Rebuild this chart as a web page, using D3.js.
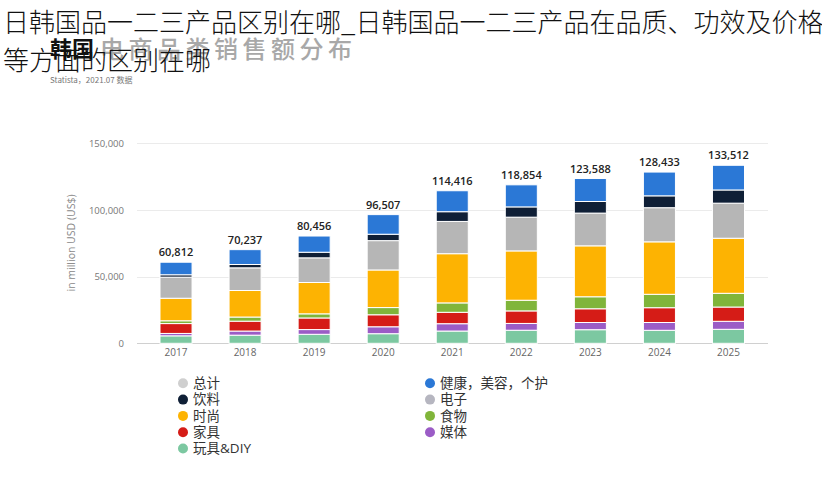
<!DOCTYPE html>
<html>
<head>
<meta charset="utf-8">
<script src="https://cdn.jsdelivr.net/npm/d3@7"></script>
<style>
  html, body { margin: 0; padding: 0; background: #fff; }
  svg { display: block; }
</style>
</head>
<body>
<svg id="chart" width="822" height="500"></svg>
<script>
// ---- data ----
const years = ["2017", "2018", "2019", "2020", "2021", "2022", "2023", "2024", "2025"];
const toys        = [5600, 6100, 6750, 7200, 9200, 9800, 10200, 9750, 10500];
const media       = [1800, 3100, 3550, 5200, 5500, 5100, 5400, 5850, 6000];
const furniture   = [7400, 7400, 8700, 9000, 8550, 9400, 10300, 11100, 10700];
const food        = [2100, 3100, 3100, 5400, 7050, 8000, 9000, 10050, 10300];
const fashion     = [16900, 19900, 23500, 28200, 36900, 37000, 38200, 39350, 41300];
const electronics = [15800, 17000, 18500, 22000, 24200, 25300, 24550, 25600, 26300];
const beverages   = [1800, 2500, 4200, 4800, 7300, 7700, 8700, 8900, 9900];
const health      = [9412, 11137, 12156, 14707, 15716, 16554, 17238, 17833, 18512];
const totals      = [60812, 70237, 80456, 96507, 114416, 118854, 123588, 128433, 133512];
const yTicks      = [0, 50000, 100000, 150000];

const seriesKeys   = ["toys", "media", "furniture", "food", "fashion", "electronics", "beverages", "health"];
const seriesValues = [toys, media, furniture, food, fashion, electronics, beverages, health];
const seriesColors = ["#7cc8a1", "#9b5cc6", "#d51c17", "#80b53a", "#fdb302", "#b6b6b6", "#0f1f36", "#2b78d6"];

const legendLeft  = [["总计", "#cfcfcf"], ["饮料", "#0f1f36"], ["时尚", "#fdb302"], ["家具", "#d51c17"], ["玩具&DIY", "#7cc8a1"]];
const legendRight = [["健康，美容，个护", "#2b78d6"], ["电子", "#b6b6c0"], ["食物", "#80b53a"], ["媒体", "#9b5cc6"]];

// ---- build table ----
const table = years.map((yr, i) => {
  const row = { year: yr, total: totals[i] };
  seriesKeys.forEach((k, j) => row[k] = seriesValues[j][i]);
  return row;
});

const svg = d3.select("#chart");
const FONT = "'Open Sans', 'Noto Sans CJK SC', sans-serif";

const x = d3.scaleBand().domain(years).range([141.5, 763]).paddingInner(0.536).paddingOuter(0.268);
const y = d3.scaleLinear().domain([0, 150000]).range([343.3, 143.3]);

// gridlines
svg.append("g").selectAll("line").data(yTicks).join("line")
  .attr("x1", 137).attr("x2", 768)
  .attr("y1", d => Math.round(y(d)) + 0.5).attr("y2", d => Math.round(y(d)) + 0.5)
  .attr("stroke", d => d === 0 ? "#d0d0d0" : "#ebebeb")
  .attr("stroke-width", 1);

// y axis labels
const yAxis = d3.axisLeft(y).tickValues(yTicks).tickSize(0).tickPadding(0).tickFormat(d3.format(","));
const yg = svg.append("g").attr("transform", "translate(124,0)").call(yAxis);
yg.select(".domain").remove();
yg.selectAll("text").attr("font-family", FONT).attr("font-size", 9.5).attr("fill", "#777");

// y axis title
svg.append("text")
  .attr("transform", "translate(75,243) rotate(-90)")
  .attr("text-anchor", "middle")
  .attr("font-family", FONT).attr("font-size", 10.5).attr("fill", "#888")
  .text("in million USD (US$)");

// x axis labels
const xAxis = d3.axisBottom(x).tickSize(0).tickPadding(0);
const xg = svg.append("g").attr("transform", "translate(0,349)").call(xAxis);
xg.select(".domain").remove();
xg.selectAll("text").attr("font-family", FONT).attr("font-size", 10).attr("fill", "#666");

// stacked bars
const stacked = d3.stack().keys(seriesKeys)(table);
svg.append("g").selectAll("g").data(stacked).join("g")
  .attr("fill", (d, i) => seriesColors[i])
  .selectAll("rect").data(d => d).join("rect")
  .attr("x", d => x(d.data.year))
  .attr("width", x.bandwidth())
  .attr("y", d => y(d[1]))
  .attr("height", d => y(d[0]) - y(d[1]))
  .attr("stroke", "#fff")
  .attr("stroke-width", 1);

// total labels
svg.append("g").selectAll("text").data(table).join("text")
  .attr("x", d => x(d.year) + x.bandwidth() / 2)
  .attr("y", d => y(d.total) - 6)
  .attr("text-anchor", "middle")
  .attr("font-family", FONT).attr("font-size", 11).attr("font-weight", 600).attr("fill", "#222")
  .text(d => d3.format(",")(d.total));

// legend
function legendCol(items, cx, tx) {
  const g = svg.append("g");
  const rows = g.selectAll("g").data(items).join("g")
    .attr("transform", (d, i) => `translate(0,${383.3 + i * 16.3})`);
  rows.append("circle").attr("cx", cx).attr("cy", 0).attr("r", 5).attr("fill", d => d[1]);
  rows.append("text").attr("x", tx).attr("y", 4.8)
    .attr("font-family", FONT).attr("font-size", 13.5).attr("fill", "#333")
    .text(d => d[0]);
}
legendCol(legendLeft, 183, 193);
legendCol(legendRight, 430, 440);

// embedded subtitle (behind title)
svg.append("text").attr("x", 50).attr("y", 57)
  .attr("font-family", "'Noto Sans CJK SC', sans-serif").attr("font-size", 22).attr("font-weight", 700).attr("fill", "#111")
  .text("韩国");
svg.append("text").attr("x", 100).attr("y", 58)
  .attr("font-family", "'Noto Sans CJK SC', sans-serif").attr("font-size", 24).attr("font-weight", 500).attr("fill", "#a8a8a8")
  .attr("textLength", 252).attr("lengthAdjust", "spacing")
  .text("电商品类销售额分布");
svg.append("text").attr("x", 50).attr("y", 83)
  .attr("font-family", "'Noto Sans CJK SC', sans-serif").attr("font-size", 8).attr("fill", "#777")
  .text("Statista，2021.07 数据");

// page title
const title = svg.append("text")
  .attr("font-family", "'Noto Sans CJK SC', sans-serif").attr("font-size", 26).attr("font-weight", 300).attr("fill", "#111");
title.append("tspan").attr("x", 3).attr("y", 31.5).text("日韩国品一二三产品区别在哪_日韩国品一二三产品在品质、功效及价格");
title.append("tspan").attr("x", 3).attr("y", 70).text("等方面的区别在哪");
</script>
</body>
</html>
